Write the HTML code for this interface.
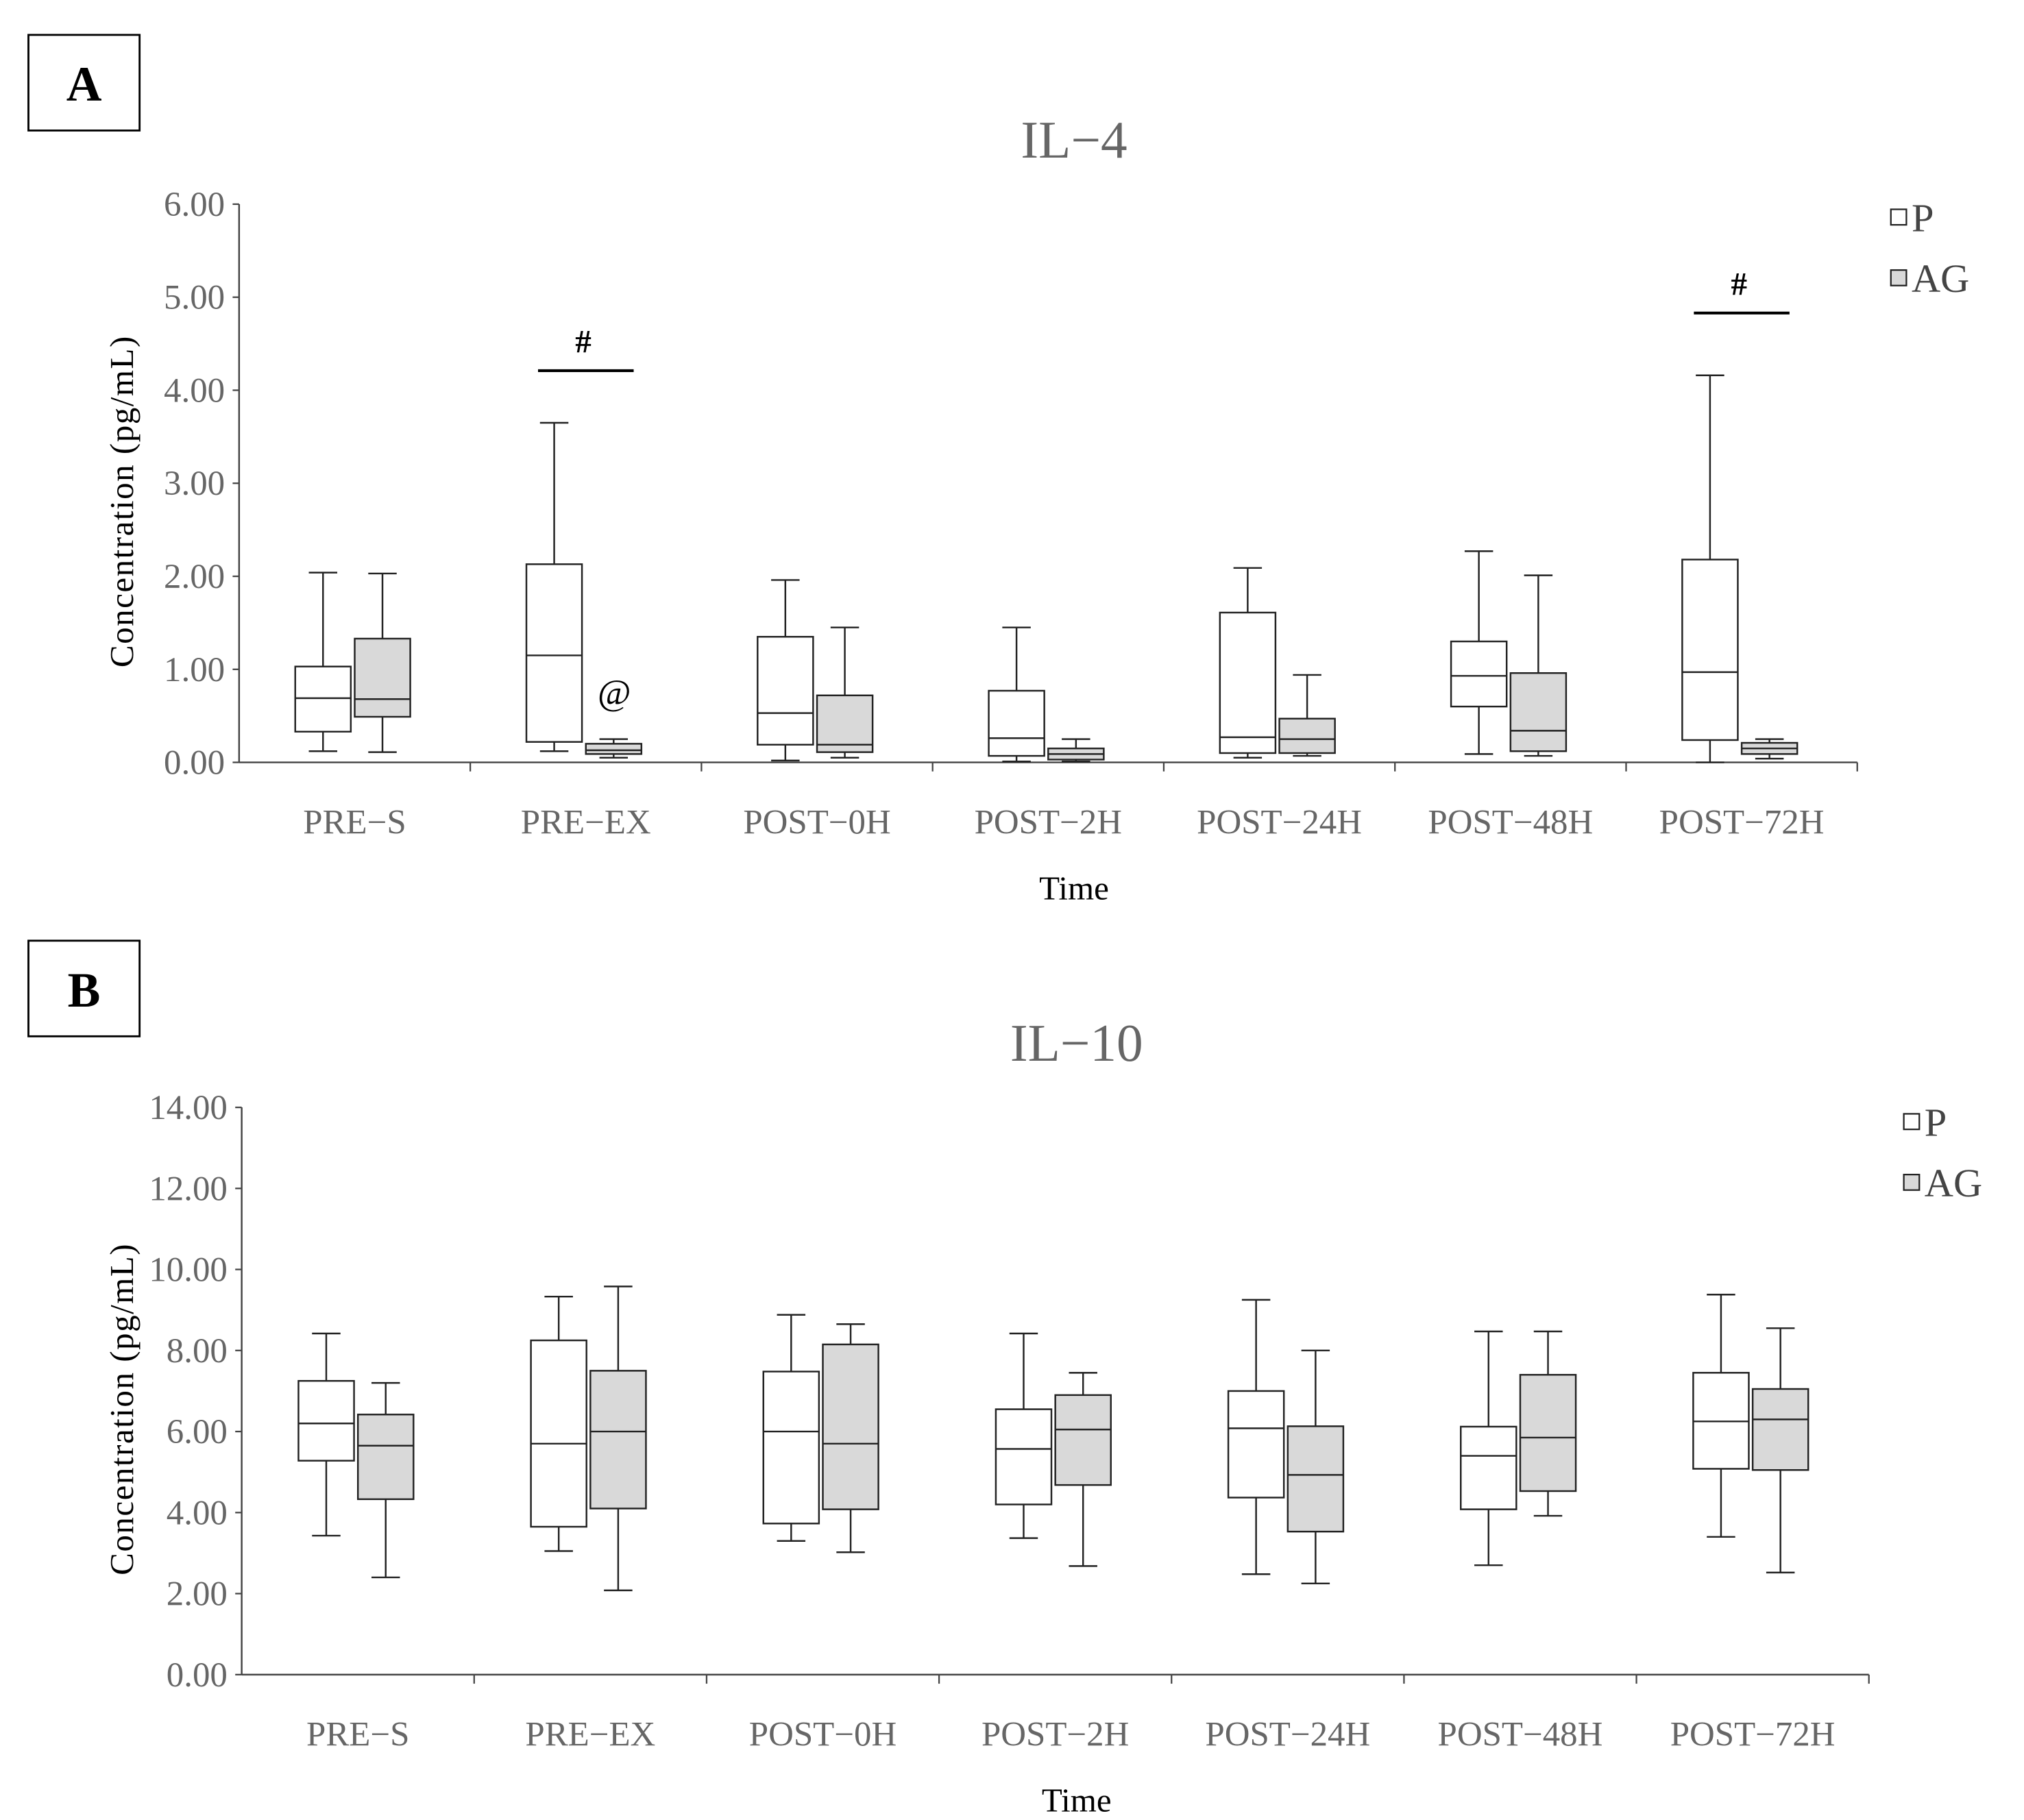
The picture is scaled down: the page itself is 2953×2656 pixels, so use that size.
<!DOCTYPE html>
<html><head><meta charset="utf-8"><style>
html,body{margin:0;padding:0;background:#fff;}
svg{display:block;}
text{font-family:"Liberation Serif",serif;}
</style></head><body>
<svg id="fig" width="2953" height="2656" viewBox="0 0 1566 1408.5" xmlns="http://www.w3.org/2000/svg">
<rect x="0" y="0" width="1566" height="1408.5" fill="#fff"/>
</svg>
<script>
const categories = ["PRE−S","PRE−EX","POST−0H","POST−2H","POST−24H","POST−48H","POST−72H"];
// [min, q1, median, q3, max]
const il4P = [[0.12,0.33,0.69,1.03,2.04],[0.12,0.22,1.15,2.13,3.65],[0.02,0.19,0.53,1.35,1.96],[0.01,0.07,0.26,0.77,1.45],[0.05,0.10,0.27,1.61,2.09],[0.09,0.60,0.93,1.30,2.27],[0.00,0.24,0.97,2.18,4.16]];
const il4AG = [[0.11,0.49,0.68,1.33,2.03],[0.05,0.09,0.13,0.20,0.25],[0.05,0.11,0.19,0.72,1.45],[0.01,0.03,0.09,0.15,0.25],[0.07,0.10,0.25,0.47,0.94],[0.07,0.12,0.34,0.96,2.01],[0.04,0.09,0.15,0.21,0.25]];
const il4Ticks = ["0.00","1.00","2.00","3.00","4.00","5.00","6.00"];
const il10P = [[3.43,5.28,6.2,7.25,8.42],[3.05,3.65,5.7,8.25,9.33],[3.3,3.73,6.0,7.48,8.88],[3.37,4.2,5.57,6.55,8.42],[2.48,4.37,6.08,7.0,9.25],[2.7,4.08,5.4,6.12,8.47],[3.4,5.08,6.25,7.45,9.38]];
const il10AG = [[2.4,4.33,5.65,6.42,7.2],[2.08,4.1,6.0,7.5,9.58],[3.02,4.08,5.7,8.15,8.65],[2.68,4.68,6.05,6.9,7.45],[2.25,3.53,4.93,6.13,8.0],[3.92,4.53,5.85,7.4,8.47],[2.52,5.05,6.3,7.05,8.55]];
const il10Ticks = ["0.00","2.00","4.00","6.00","8.00","10.00","12.00","14.00"];

const NS="http://www.w3.org/2000/svg";
const svg=document.getElementById('fig');
function mk(tag,attrs,parent,txt){const e=document.createElementNS(NS,tag);for(const k in attrs)e.setAttribute(k,attrs[k]);if(txt!==undefined)e.textContent=txt;(parent||svg).appendChild(e);return e;}

function panel(cfg){
  const g=mk('g',{});
  
  
  const {x0,x1,y0,yTop,maxV}=cfg;
  const ys=v=>y0-(v/maxV)*(y0-yTop);
  const bw=(x1-x0)/categories.length;
  const xc=i=>x0+bw*(i+0.5);
  const lb=mk('rect',{x:22,y:cfg.letterY,width:86,height:74,fill:'#fff',stroke:'#000','stroke-width':1.5},g);
  
  const lt=mk('text',{x:65,y:cfg.letterY+51,'text-anchor':'middle','font-size':38,'font-weight':'bold',fill:'#000'},g,cfg.letter);
  
  const tt=mk('text',{x:x0+646,y:cfg.titleY,'text-anchor':'middle','font-size':41,fill:'#666'},g,cfg.title);
  
  const ya=mk('line',{x1:x0,y1:yTop,x2:x0,y2:y0,stroke:'#444','stroke-width':1.3},g);
  
  const xa=mk('line',{x1:x0,y1:y0,x2:x1,y2:y0,stroke:'#444','stroke-width':1.3},g);
  
  const step=maxV/(cfg.ticks.length-1);
  cfg.ticks.forEach((t,i)=>{
    const y=ys(i*step);
    mk('line',{x1:x0-5,y1:y,x2:x0,y2:y,stroke:'#444','stroke-width':1.2},g);
    const tx=mk('text',{x:x0-11,y:y+9,'text-anchor':'end','font-size':27,fill:'#666'},g,t);
    
  });
  categories.forEach((c,i)=>{
    const bx=x0+bw*(i+1);
    mk('line',{x1:bx,y1:y0,x2:bx,y2:y0+7,stroke:'#444','stroke-width':1.2},g);
    const tx=mk('text',{x:xc(i),y:y0+55,'text-anchor':'middle','font-size':27,fill:'#666'},g,c);
    
  });
  const xt=mk('text',{x:x0+646,y:y0+106,'text-anchor':'middle','font-size':26,fill:'#000'},g,'Time');
  
  const yc=(y0+yTop)/2+14;
  const yt=mk('text',{x:103,y:yc,'text-anchor':'middle','font-size':26,fill:'#000',transform:`rotate(-90 103 ${yc})`,'letter-spacing':'0.8'},g,'Concentration  (pg/mL)');
  
  function box(d,cx,fill,name){
    const w=43, cap=11;
    const bg=mk('g',{},g);
    
    const st={stroke:'#222','stroke-width':1.3};
    mk('line',Object.assign({x1:cx,y1:ys(d[4]),x2:cx,y2:ys(d[3])},st),bg);
    mk('line',Object.assign({x1:cx,y1:ys(d[0]),x2:cx,y2:ys(d[1])},st),bg);
    mk('line',Object.assign({x1:cx-cap,y1:ys(d[4]),x2:cx+cap,y2:ys(d[4])},st),bg);
    mk('line',Object.assign({x1:cx-cap,y1:ys(d[0]),x2:cx+cap,y2:ys(d[0])},st),bg);
    mk('rect',Object.assign({x:cx-w/2,y:ys(d[3]),width:w,height:Math.max(0.5,ys(d[1])-ys(d[3])),fill:fill},st),bg);
    mk('line',Object.assign({x1:cx-w/2,y1:ys(d[2]),x2:cx+w/2,y2:ys(d[2])},st),bg);
  }
  categories.forEach((c,i)=>{
    box(cfg.p[i],xc(i)-24.5,'#fff','box-p-'+i);
    box(cfg.ag[i],xc(i)+21.5,'#d9d9d9','box-ag-'+i);
  });
  const lg=mk('g',{},g);
  
  [['P','#fff',cfg.legY],['AG','#d9d9d9',cfg.legY+47]].forEach(([lab,f,y])=>{
    const e=mk('g',{},lg);
    
    mk('rect',{x:cfg.legX,y:y-6,width:12,height:12,fill:f,stroke:'#222','stroke-width':1.2},e);
    mk('text',{x:cfg.legX+16,y:y+11,'font-size':31,fill:'#444'},e,lab);
  });
  return {g,ys,xc};
}

const A=panel({name:'il4-panel',letter:'A',letterY:27,title:'IL−4',titleY:122,x0:185,x1:1437,y0:590,yTop:158,maxV:6,ticks:il4Ticks,p:il4P,ag:il4AG,legX:1463,legY:168});
const B=panel({name:'il10-panel',letter:'B',letterY:728,title:'IL−10',titleY:821,x0:187,x1:1446,y0:1296,yTop:857,maxV:14,ticks:il10Ticks,p:il10P,ag:il10AG,legX:1473,legY:868});

function sig(cat,val,sym){
  const cx=A.xc(cat);
  const y=A.ys(val);
  const l=mk('line',{x1:cx-37,y1:y,x2:cx+37,y2:y,stroke:'#000','stroke-width':2.2},A.g);
  
  const t=mk('text',{x:cx-2,y:y-14,'text-anchor':'middle','font-size':25,'font-weight':'bold',fill:'#000'},A.g,sym);
  
}
sig(1,4.21,'#');
sig(6,4.83,'#');
const at=mk('text',{x:A.xc(1)+22,y:A.ys(0.62),'text-anchor':'middle','font-size':28,fill:'#000'},A.g,'@');


</script>
</body></html>
